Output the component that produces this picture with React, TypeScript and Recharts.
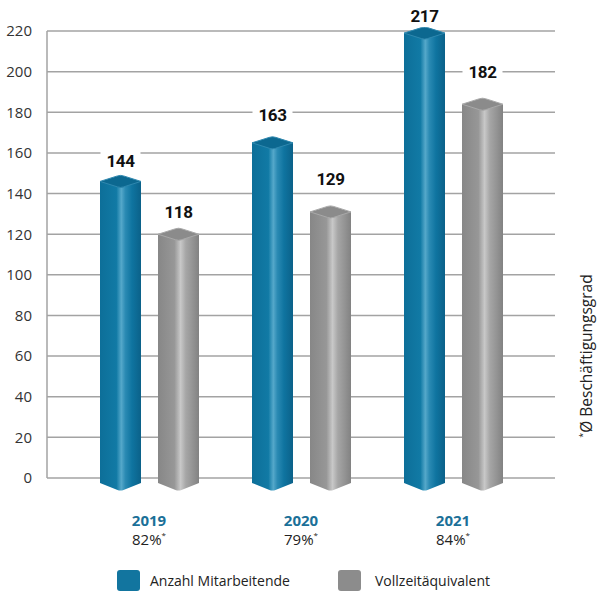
import React from "react";
import {
  BarChart,
  Bar,
  XAxis,
  YAxis,
  CartesianGrid,
  LabelList,
} from "recharts";

const years = ["2019", "2020", "2021"];
const employees = [144, 163, 217];
const fte = [118, 129, 182];
const rates = ["82%", "79%", "84%"];
const yTicks = [0, 20, 40, 60, 80, 100, 120, 140, 160, 180, 200, 220];

// how far each value label sits above its bar top (px), as in the original layout
const blueLift = [24, 32, 21];
const grayLift = [26, 37, 36];

const data = years.map((y, i) => ({
  year: y,
  rate: rates[i],
  employees: employees[i],
  fte: fte[i],
}));

const BLUE = "#12759f";
const GRAY = "#8c8c8c";
const FONT = "'Open Sans', sans-serif";
const NARROW = "'Roboto', sans-serif";

function makeShape(kind: "blue" | "gray") {
  return (props: any) => {
    const { x, y, width, height } = props;
    const cx = x + width / 2;
    const yBot = y + height + 5;
    const dip = 7;
    const cy = y - 4;
    const cap = 6;
    const capFill = kind === "blue" ? "#0c6890" : "#8b8b8b";
    const capStroke = kind === "blue" ? "#2f88af" : "#a9a9a9";
    const body =
      `M${x},${cy} L${x},${yBot} L${cx - 3},${yBot + dip} Q${cx},${yBot + dip + 1} ${cx + 3},${yBot + dip} ` +
      `L${x + width},${yBot} L${x + width},${cy} Z`;
    const top = `M${x},${cy} L${cx - 3},${cy - cap + 0.5} Q${cx},${cy - cap - 0.5} ${cx + 3},${cy - cap + 0.5} L${x + width},${cy} L${cx + 3},${cy + cap - 0.5} Q${cx},${cy + cap + 0.5} ${cx - 3},${cy + cap - 0.5} Z`;
    return (
      <g>
        <path d={body} fill={`url(#grad-${kind})`} />
        <path d={top} fill={capFill} stroke={capStroke} strokeWidth={1} strokeLinejoin="round" />
      </g>
    );
  };
}

const makeLabel = (lifts: number[]) => (props: any) => {
  const { x, y, width, value, index } = props;
  const cx = x + width / 2;
  const ly = y - lifts[index];
  return (
    <g>
      <rect x={cx - 20} y={ly - 11} width={40} height={22} fill="#fff" />
      <text
        x={cx}
        y={ly}
        textAnchor="middle"
        dominantBaseline="central"
        fontFamily={NARROW}
        fontWeight="bold"
        fontSize={17}
        letterSpacing={-0.4}
        fill="#111"
      >
        {value}
      </text>
    </g>
  );
};

const YearTick = (props: any) => {
  const { x, y, payload, index } = props;
  return (
    <g>
      <text
        x={x}
        y={y + 40}
        textAnchor="middle"
        fontFamily={FONT}
        fontWeight="bold"
        fontSize={15}
        fill="#1b7098"
      >
        {payload.value}
      </text>
      <text x={x} y={y + 59} textAnchor="middle" fontFamily={FONT} fontSize={15} fill="#222">
        {rates[index]}
        <tspan dy={-7} fontSize={8}>*</tspan>
      </text>
    </g>
  );
};

export default function App() {
  return (
    <div style={{ position: "absolute", left: 0, top: 0, width: 605, height: 592, background: "#fff" }}>
      <BarChart
        width={605}
        height={592}
        data={data}
        margin={{ top: 31, right: 50, bottom: 0, left: 0 }}
        barGap={17}
        barSize={41}
      >
        <defs>
          <linearGradient id="grad-blue" x1="0" y1="0" x2="1" y2="0">
            <stop offset="0%" stopColor="#0d6f99" />
            <stop offset="40%" stopColor="#117aa5" />
            <stop offset="52%" stopColor="#55a8ca" />
            <stop offset="62%" stopColor="#2a8ab3" />
            <stop offset="78%" stopColor="#0f74a0" />
            <stop offset="100%" stopColor="#0b6189" />
          </linearGradient>
          <linearGradient id="grad-gray" x1="0" y1="0" x2="1" y2="0">
            <stop offset="0%" stopColor="#878787" />
            <stop offset="40%" stopColor="#979797" />
            <stop offset="55%" stopColor="#c8c8c8" />
            <stop offset="68%" stopColor="#a6a6a6" />
            <stop offset="85%" stopColor="#939393" />
            <stop offset="100%" stopColor="#828282" />
          </linearGradient>
        </defs>
        <CartesianGrid vertical={false} stroke="#a3a3a3" strokeWidth={1.5} />
        <XAxis
          dataKey="year"
          axisLine={false}
          tickLine={false}
          tick={<YearTick />}
          height={114}
          padding={{ left: 26, right: 26 }}
        />
        <YAxis
          width={47}
          domain={[0, 220]}
          ticks={yTicks}
          interval={0}
          tickLine={false}
          axisLine={{ stroke: "#a3a3a3", strokeWidth: 1.5 }}
          tickMargin={9}
          tick={{ fontFamily: FONT, fontSize: 15, fill: "#333" }}
        />
        <Bar dataKey="employees" name="Anzahl Mitarbeitende" fill={BLUE} shape={makeShape("blue")} isAnimationActive={false}>
          <LabelList dataKey="employees" content={makeLabel(blueLift)} />
        </Bar>
        <Bar dataKey="fte" name="Vollzeitäquivalent" fill={GRAY} shape={makeShape("gray")} isAnimationActive={false}>
          <LabelList dataKey="fte" content={makeLabel(grayLift)} />
        </Bar>
      </BarChart>
      <div
        style={{
          position: "absolute",
          top: 570,
          left: 0,
          display: "flex",
          fontFamily: FONT,
          fontSize: 14,
          color: "#222",
          alignItems: "center",
        }}
      >
        <div style={{ width: 23, height: 21, background: BLUE, borderRadius: 3, marginLeft: 117 }} />
        <span style={{ marginLeft: 10 }}>Anzahl Mitarbeitende</span>
        <div style={{ width: 23, height: 21, background: GRAY, borderRadius: 3, marginLeft: 48 }} />
        <span style={{ marginLeft: 14 }}>Vollzeitäquivalent</span>
      </div>
      <div
        style={{
          position: "absolute",
          left: 586,
          top: 356,
          transform: "translate(-50%, -50%) rotate(-90deg)",
          whiteSpace: "nowrap",
          fontFamily: FONT,
          fontSize: 15.5,
          color: "#222",
        }}
      >
        <sup style={{ fontSize: 9 }}>*</sup>Ø Beschäftigungsgrad
      </div>
    </div>
  );
}
